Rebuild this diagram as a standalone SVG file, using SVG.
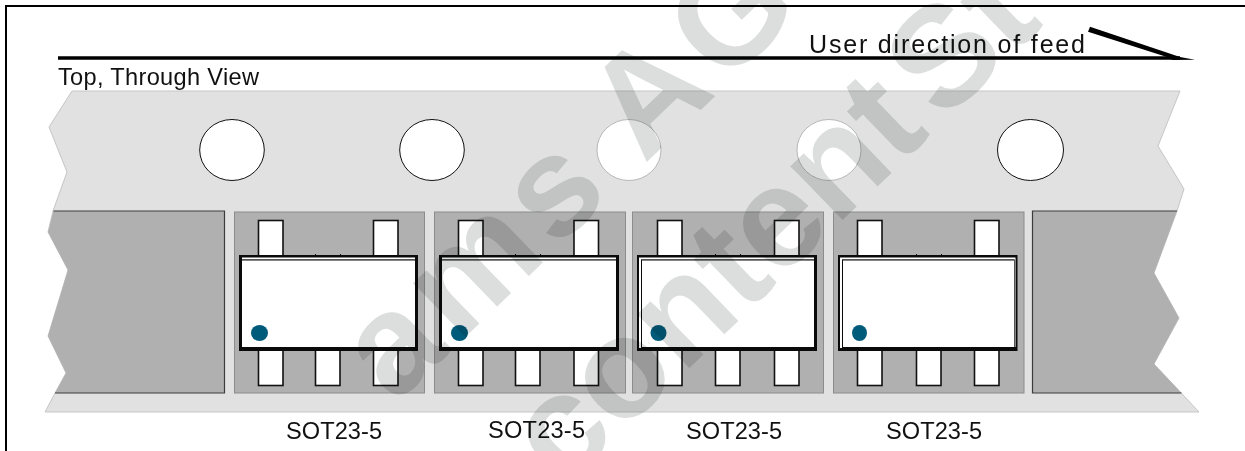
<svg xmlns="http://www.w3.org/2000/svg" width="1245" height="451" viewBox="0 0 1245 451">
<style>
text{font-family:"Liberation Sans",Arial,sans-serif;fill:#111}
.lbl{font-size:23.600px}
.feedt{font-size:25px}
.tape{fill:#e1e1e1;stroke:#c6c6c6;stroke-width:1}
.end{fill:#b0b0b0}
.edge{fill:none;stroke:#3c3c3c;stroke-width:1.2}
.pocket{fill:#b0b0b0;stroke:#8c8c8c;stroke-width:1}
.lead{fill:#fff;stroke:#111;stroke-width:1.600}
.tick{fill:#111}
.body{fill:#0a0a0a}
.in{fill:#fff}
.dot{fill:#005b7a}
.hole{fill:#fff;stroke:#111;stroke-width:1}
.hole2{fill:#fff;stroke:#a8a8a8;stroke-width:.8}
.wm{font-size:142px;font-weight:bold;fill:#dcdedd;mix-blend-mode:multiply;word-spacing:-24px}
</style>
<rect width="1245" height="451" fill="#fff"/>
<g id="frame" fill="none" stroke="#000" stroke-width="2"><path d="M6 451V6H1245"/></g>
<g id="connectors">
<path d="M58 58H1180" stroke="#000" stroke-width="3.400" fill="none"/>
<path d="M1090 26.700L1180 57L1195 59.700L1172 60L1170 58L1088 31.700Z" fill="#000"/>
</g>
<g id="title"><text class="lbl" x="58" y="85" textLength="201" lengthAdjust="spacing">Top, Through View</text></g>
<g id="feed"><text class="feedt" x="809" y="53" textLength="276" lengthAdjust="spacing">User direction of feed</text></g>
<g id="tape">
<polygon class="tape" points="72,91 1180,91 1158,146 1184,189 1177,211 1154,273 1179,318 1154,364 1199,412 45,412 55,393 66,373 48,336 68,270 48,232 53,211 67,172 49,127"/>
<polygon class="end" points="53.500,211 224.500,211 224.500,393 55,393 66,373 48,336 68,270 48,232"/>
<path class="edge" d="M53.500 211H224.500V393H55"/>
<polygon class="end" points="1032.500,211 1177,211 1154,273 1179,318 1154,364 1181.500,393 1032.500,393"/>
<path class="edge" d="M1177 211H1032.500V393H1181.500"/>
</g>
<g id="holes">
<ellipse class="hole" cx="232" cy="150" rx="32.300" ry="30.500"/>
<ellipse class="hole" cx="432" cy="150" rx="32.300" ry="30.500"/>
<ellipse class="hole2" cx="629" cy="150" rx="32" ry="30.500"/>
<ellipse class="hole2" cx="829" cy="150" rx="32" ry="30.500"/>
<ellipse class="hole" cx="1030.500" cy="150" rx="33" ry="30.500"/>
</g>
<g id="part1">
<rect class="pocket" x="234.500" y="212" width="190" height="181"/>
<rect class="lead" x="258.500" y="220.500" width="24.500" height="36"/><rect class="lead" x="373.500" y="220.500" width="24.500" height="36"/>
<rect class="tick" x="315" y="254" width="1" height="2"/><rect class="tick" x="340" y="254" width="1" height="2"/>
<rect class="lead" x="258.500" y="349" width="24.500" height="36.500"/><rect class="lead" x="315.500" y="349" width="24.500" height="36.500"/><rect class="lead" x="373.500" y="349" width="24.500" height="36.500"/>
<rect class="body" x="239" y="255" width="179" height="96"/><rect class="in" x="242" y="257.500" width="173" height="1.800"/><rect class="in" x="242" y="260.500" width="173" height="86.500"/>
<ellipse class="dot" cx="259.500" cy="333" rx="8.500" ry="8"/>
<text class="lbl" x="286" y="439" textLength="96" lengthAdjust="spacing">SOT23-5</text>
</g>
<g id="part2">
<rect class="pocket" x="434.500" y="212" width="191" height="181"/>
<rect class="lead" x="458.500" y="220.500" width="24.500" height="36"/><rect class="lead" x="574" y="220.500" width="24.500" height="36"/>
<rect class="tick" x="515" y="254" width="1" height="2"/><rect class="tick" x="540" y="254" width="1" height="2"/>
<rect class="lead" x="458.500" y="349" width="24.500" height="36.500"/><rect class="lead" x="515.500" y="349" width="24.500" height="36.500"/><rect class="lead" x="574" y="349" width="24.500" height="36.500"/>
<rect class="body" x="439" y="255" width="180" height="96"/><rect class="in" x="442" y="257.500" width="174" height="1.800"/><rect class="in" x="442" y="260.500" width="174" height="86.500"/>
<ellipse class="dot" cx="459.500" cy="333" rx="8.500" ry="8"/>
<text class="lbl" x="488" y="438" textLength="97" lengthAdjust="spacing">SOT23-5</text>
</g>
<g id="part3">
<rect class="pocket" x="632.500" y="212" width="191" height="181"/>
<rect class="lead" x="657.500" y="220.500" width="24.500" height="36"/><rect class="lead" x="774.500" y="220.500" width="24.500" height="36"/>
<rect class="tick" x="715" y="254" width="1" height="2"/><rect class="tick" x="740" y="254" width="1" height="2"/>
<rect class="lead" x="657.500" y="349" width="24.500" height="36.500"/><rect class="lead" x="715.500" y="349" width="24.500" height="36.500"/><rect class="lead" x="774.500" y="349" width="24.500" height="36.500"/>
<rect class="body" x="637" y="255" width="180" height="96"/><rect class="in" x="639" y="257.500" width="175" height="1.800"/><rect class="in" x="639" y="258" width="2" height="90"/><rect class="in" x="642" y="260.500" width="172" height="86.500"/>
<ellipse class="dot" cx="658.500" cy="333" rx="8" ry="8"/>
<text class="lbl" x="686" y="439" textLength="96" lengthAdjust="spacing">SOT23-5</text>
</g>
<g id="part4">
<rect class="pocket" x="833.500" y="212" width="190.500" height="181"/>
<rect class="lead" x="857.500" y="220.500" width="24.500" height="36"/><rect class="lead" x="974.500" y="220.500" width="24.500" height="36"/>
<rect class="tick" x="916" y="254" width="1" height="2"/><rect class="tick" x="941" y="254" width="1" height="2"/>
<rect class="lead" x="857.500" y="349" width="24.500" height="36.500"/><rect class="lead" x="916.500" y="349" width="24.500" height="36.500"/><rect class="lead" x="974.500" y="349" width="24.500" height="36.500"/>
<rect class="body" x="838" y="255" width="179.500" height="96"/><rect class="in" x="840" y="257.500" width="175.500" height="1.800"/><rect class="in" x="840" y="258" width="2" height="90"/><rect class="in" x="843" y="260.500" width="171" height="86.500"/><rect class="in" x="1014.700" y="259" width=".8" height="88"/>
<ellipse class="dot" cx="859.500" cy="333" rx="7.500" ry="8"/>
<text class="lbl" x="886" y="439" textLength="96" lengthAdjust="spacing">SOT23-5</text>
</g>
<g id="watermark">
<text class="wm" style="letter-spacing:9px;word-spacing:-8px" transform="translate(395 405) rotate(-44)">ams AG</text>
<text class="wm" transform="translate(563 490) rotate(-44)">content St</text>
</g>
</svg>
